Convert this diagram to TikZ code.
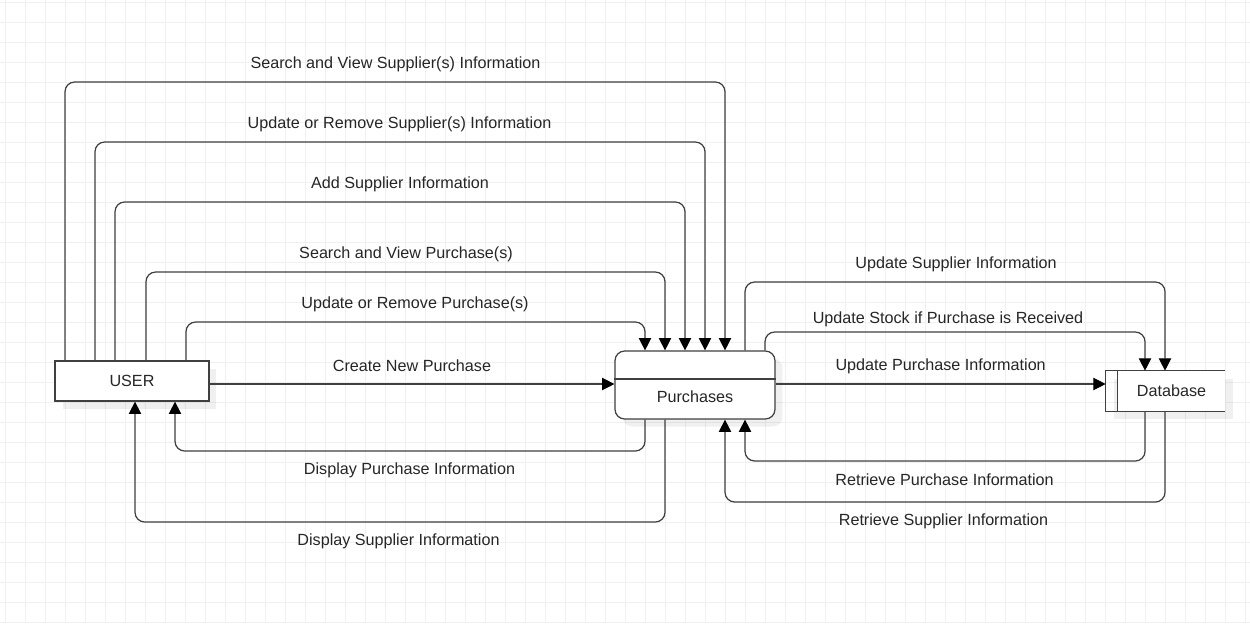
\documentclass[tikz,border=0pt]{standalone}
\usepackage{fontspec}
\setmainfont{Liberation Sans}
\usetikzlibrary{arrows.meta,shadows}

\begin{document}
\begin{tikzpicture}[x=0.02cm, y=-0.02cm,
  every node/.style={font=\fontsize{9.2}{11}\selectfont, text=black!85},
  gridline/.style={draw=black!6, line width=0.5pt},
  boxline/.style={draw=black!75, line width=0.7pt},
  proc/.style={boxline, fill=white, minimum width=3.08cm, minimum height=0.8cm, inner sep=0pt,
    drop shadow={shadow xshift=0.15cm, shadow yshift=-0.15cm, fill=black, opacity=0.06}},
  flow/.style={boxline, rounded corners=5.5pt, -{Triangle[length=7pt, width=7pt, color=black]}},
  lblup/.style={inner sep=0pt, yshift=0.36cm},
  lbldown/.style={inner sep=0pt, yshift=-0.38cm}]

\fill[white] (0,0) rectangle (1250,623);
\useasboundingbox (0,0) rectangle (1250,623);
\foreach \gx in {5,25,...,1245} \draw[gridline] (\gx,0) -- (\gx,623);
\foreach \gy in {2,22,...,622} \draw[gridline] (0,\gy) -- (1250,\gy);

% processes and store
\node[proc] (user) at (132,381) {USER};
\node[proc, minimum width=3.2cm, minimum height=1.36cm, rounded corners=5.5pt] (purch) at (695,385) {};
\node (purchname) at (695,397) {Purchases};
\draw[boxline] (purch.west |- 0,379) -- (purch.east |- 0,379);

\fill[black, opacity=0.06] (1114,379) rectangle (1233,419);
\node[fill=white, minimum width=2.14cm, minimum height=0.8cm, inner sep=0pt] (db) at (1171.5,391) {Database};
\coordinate (dbleft) at ([xshift=-0.24cm]db.west);
\draw[boxline] (db.north east) -- (dbleft |- db.north) -- (dbleft |- db.south) -- (db.south east);
\draw[boxline] (db.north west) -- (db.south west);

% user -> purchases
\draw[flow] (user.north -| 65,0) |- (395.5,82) node[lblup] (l1) {Search and View Supplier(s) Information} -| (purch.north -| 725,0);
\draw[flow] (user.north -| 95,0) |- (399.5,142) node[lblup] (l2) {Update or Remove Supplier(s) Information} -| (purch.north -| 705,0);
\draw[flow] (user.north -| 115,0) |- (400,202) node[lblup] (l3) {Add Supplier Information} -| (purch.north -| 685,0);
\draw[flow] (user.north -| 146,0) |- (406,272) node[lblup] (l4) {Search and View Purchase(s)} -| (purch.north -| 665,0);
\draw[flow] (user.north -| 186,0) |- (415,322) node[lblup] (l5) {Update or Remove Purchase(s)} -| (purch.north -| 645,0);
\draw[flow] (user.east |- 0,384) -- node[lblup] (l6) {Create New Purchase} (purch.west |- 0,384);

% purchases -> user
\draw[flow] (purch.south -| 645,0) |- (409.5,451) node[lbldown] (l7) {Display Purchase Information} -| (user.south -| 175,0);
\draw[flow] (purch.south -| 665,0) |- (398.5,522) node[lbldown] (l8) {Display Supplier Information} -| (user.south -| 135,0);

% purchases <-> database
\draw[flow] (purch.north -| 745,0) |- (956,282) node[lblup] (l9) {Update Supplier Information} -| (db.north -| 1165,0);
\draw[flow] (purch.north -| 765,0) |- (948,332) node[lblup, yshift=-0.1cm] (l10) {Update Stock if Purchase is Received} -| (db.north -| 1145,0);
\draw[flow] (purch.east |- 0,384) -- node[lblup] (l11) {Update Purchase Information} (dbleft |- 0,384);
\draw[flow] (db.south -| 1145,0) |- (944.5,461) node[lbldown] (l12) {Retrieve Purchase Information} -| (purch.south -| 745,0);
\draw[flow] (db.south -| 1165,0) |- (943.5,502) node[lbldown] (l13) {Retrieve Supplier Information} -| (purch.south -| 725,0);
\end{tikzpicture}
\end{document}
